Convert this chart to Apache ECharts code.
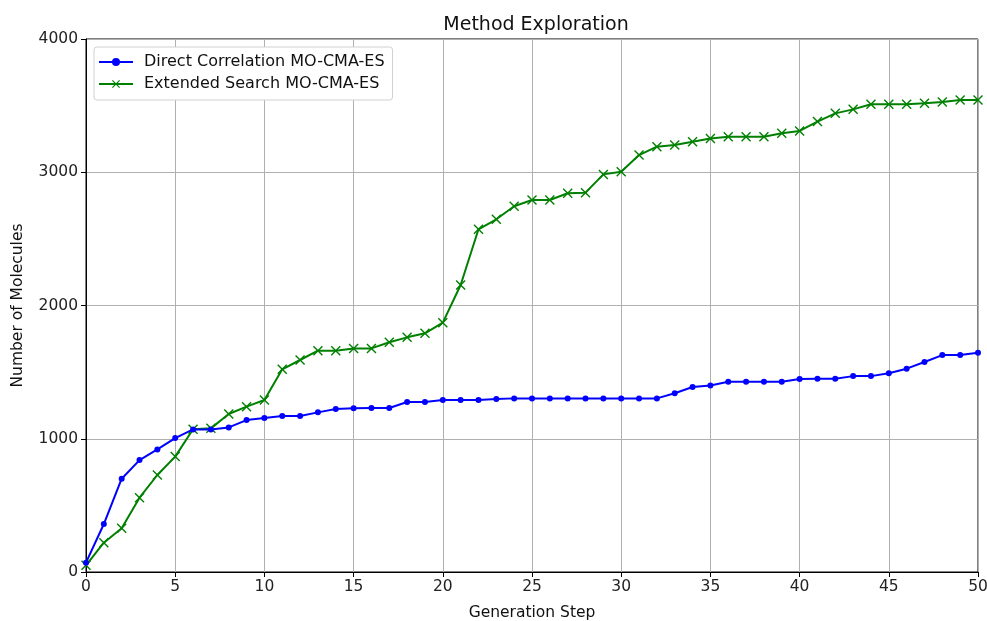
<!DOCTYPE html>
<html>
<head>
<meta charset="utf-8">
<script src="https://cdn.jsdelivr.net/npm/echarts@6/dist/echarts.min.js"></script>
<style>html,body{margin:0;padding:0;background:#fff;}#c{width:987px;height:621px;}</style>
</head>
<body>
<div id="c"></div>
<script>
const steps = Array.from({length: 51}, (_, i) => i);
const directCorrelation = [70, 360, 700, 840, 920, 1005, 1070, 1070, 1085, 1140, 1155,
  1170, 1170, 1198, 1223, 1228, 1231, 1231, 1276, 1276, 1291,
  1291, 1291, 1298, 1303, 1303, 1303, 1303, 1303, 1303, 1303,
  1303, 1303, 1341, 1388, 1400, 1428, 1428, 1428, 1428, 1448,
  1450, 1450, 1470, 1470, 1491, 1526, 1576, 1628, 1628, 1646];
const extendedSearch = [50, 220, 328, 558, 728, 866, 1071, 1078, 1186, 1241, 1291,
  1521, 1591, 1661, 1661, 1678, 1678, 1724, 1761, 1791, 1871,
  2154, 2572, 2647, 2745, 2792, 2792, 2842, 2847, 2984, 3004,
  3129, 3192, 3204, 3229, 3254, 3267, 3267, 3267, 3292, 3310,
  3380, 3442, 3472, 3510, 3510, 3510, 3517, 3527, 3542, 3542];
const xTicks = [0, 5, 10, 15, 20, 25, 30, 35, 40, 45, 50];
const yTicks = [0, 1000, 2000, 3000, 4000];

const font = 'DejaVu Sans';
const crossPath = 'path://M0,1 L1,0 L5,4 L9,0 L10,1 L6,5 L10,9 L9,10 L5,6 L1,10 L0,9 L4,5 Z';
const chart = echarts.init(document.getElementById('c'), null, {renderer: 'canvas'});
chart.setOption({
  animation: false,
  backgroundColor: '#fff',
  title: {
    text: 'Method Exploration', left: 531, top: 11, textAlign: 'center',
    textStyle: {fontFamily: font, fontSize: 19, fontWeight: 'normal', color: '#111'}
  },
  legend: {
    orient: 'vertical', left: 94, top: 47,
    padding: [7, 8, 8, 4], itemGap: 6, itemWidth: 34, itemHeight: 10,
    backgroundColor: '#fff', borderColor: '#d0d0d0', borderWidth: 1, borderRadius: 3,
    textStyle: {fontFamily: font, fontSize: 16, color: '#111', padding: [0, 0, 0, 6]},
    data: ['Direct Correlation MO-CMA-ES', 'Extended Search MO-CMA-ES']
  },
  grid: {left: 86, right: 9, top: 39, bottom: 49, outerBoundsMode: 'none', containLabel: false,
    show: true, borderColor: '#000', borderWidth: 1, backgroundColor: 'transparent'},
  xAxis: {
    type: 'value', min: 0, max: 50, interval: 5,
    name: 'Generation Step', nameLocation: 'middle', nameGap: 33,
    nameTextStyle: {fontFamily: font, fontSize: 15.5, color: '#111'},
    axisLine: {show: true, onZero: false, lineStyle: {color: '#000', width: 1}},
    axisTick: {show: true, length: 5, lineStyle: {color: '#000'}},
    axisLabel: {fontFamily: font, fontSize: 15.5, color: '#222', margin: 7,
      formatter: v => xTicks.includes(v) ? String(v) : ''},
    splitLine: {show: true, lineStyle: {color: '#b0b0b0', width: 1}}
  },
  yAxis: {
    type: 'value', min: 0, max: 4000, interval: 1000,
    name: 'Number of Molecules', nameLocation: 'middle', nameGap: 60,
    nameTextStyle: {fontFamily: font, fontSize: 15.5, color: '#111'},
    axisLine: {show: true, lineStyle: {color: '#000', width: 1}},
    axisTick: {show: true, length: 5, lineStyle: {color: '#000'}},
    axisLabel: {fontFamily: font, fontSize: 15.5, color: '#222', margin: 8,
      formatter: v => yTicks.includes(v) ? String(v) : ''},
    splitLine: {show: true, lineStyle: {color: '#b0b0b0', width: 1}}
  },
  series: [
    {
      name: 'Direct Correlation MO-CMA-ES', type: 'line',
      data: steps.map((s, i) => [s, directCorrelation[i]]),
      symbol: 'circle', symbolSize: 6, showAllSymbol: true,
      lineStyle: {color: '#0000ff', width: 2},
      itemStyle: {color: '#0000ff'}, z: 3
    },
    {
      name: 'Extended Search MO-CMA-ES', type: 'line',
      data: steps.map((s, i) => [s, extendedSearch[i]]),
      symbol: crossPath, symbolSize: 10, showAllSymbol: true,
      lineStyle: {color: '#008000', width: 2},
      itemStyle: {color: '#008000'}, z: 2
    }
  ]
});
</script>
</body>
</html>
